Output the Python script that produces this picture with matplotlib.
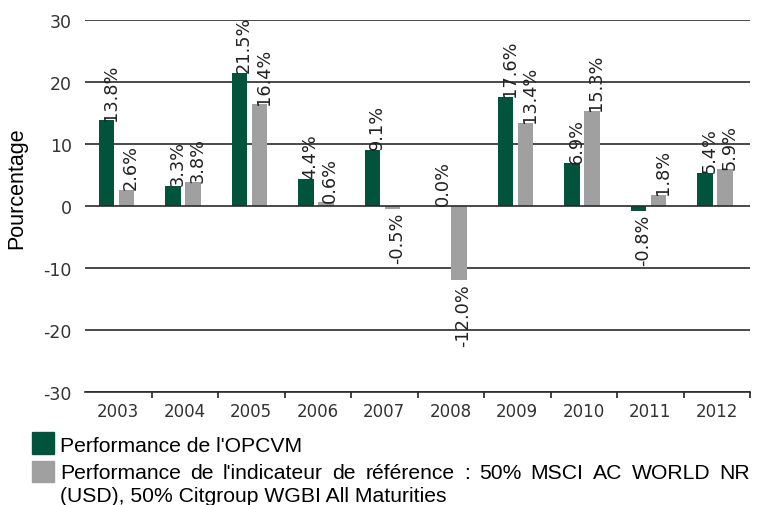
import matplotlib
matplotlib.use("Agg")
import matplotlib.pyplot as plt
from matplotlib.patches import Rectangle
import numpy as np

years = ["2003", "2004", "2005", "2006", "2007", "2008", "2009", "2010", "2011", "2012"]
opcvm = [13.8, 3.3, 21.5, 4.4, 9.1, 0.0, 17.6, 6.9, -0.8, 5.4]
indicateur = [2.6, 3.8, 16.4, 0.6, -0.5, -12.0, 13.4, 15.3, 1.8, 5.9]
yticks = [-30, -20, -10, 0, 10, 20, 30]
series_names = ["Performance de l'OPCVM",
                "Performance de l'indicateur de référence : 50% MSCI AC WORLD NR",
                "(USD), 50% Citgroup WGBI All Maturities"]

plt.rcParams["font.family"] = ["DejaVu Sans"]
GREEN = "#02533b"
GREY = "#a0a0a0"
W, H = 757, 506
fig = plt.figure(figsize=(W / 100, H / 100), dpi=100)
ax = fig.add_axes([85 / W, 1 - 393 / H, (750 - 85) / W, (393 - 21) / H])

x = np.arange(len(years))
bw = 0.23
off_g, off_r = -0.175, 0.125
ax.bar(x + off_g, opcvm, bw, color=GREEN, zorder=3)
ax.bar(x + off_r, indicateur, bw, color=GREY, zorder=3)

LFS = 12.8
def label(xs, vals):
    for xi, v in zip(xs, vals):
        if v >= 0:
            ax.annotate(f"{v:.1f}%", (xi, v), xytext=(3, 0.5), textcoords="offset points",
                        rotation=90, ha="center", va="bottom", fontsize=LFS,
                        family="DejaVu Sans", color="#222222", zorder=5)
        else:
            ax.annotate(f"{v:.1f}%", (xi, v), xytext=(3, -2), textcoords="offset points",
                        rotation=90, ha="center", va="top", fontsize=LFS,
                        family="DejaVu Sans", color="#222222", zorder=5)

label(x + off_g, opcvm)
label(x + off_r, indicateur)

ax.set_xlim(-0.5, len(years) - 0.5)
ax.set_ylim(-30, 30)
ax.set_yticks(yticks)
ax.set_yticklabels([str(t) for t in yticks], family="DejaVu Sans")
ax.tick_params(axis="y", length=0, pad=9.5, labelsize=12.5, labelcolor="#333333")
ax.set_xticks(x)
ax.set_xticklabels(years, family="DejaVu Sans")
ax.tick_params(axis="x", which="major", length=0, pad=7, labelsize=12, labelcolor="#333333")
ax.set_xticks(np.arange(len(years)) + 0.5, minor=True)
ax.tick_params(axis="x", which="minor", length=4, width=1.2, color="#222222", direction="out")
for t in yticks:
    ax.axhline(t, color="#2a2a2a", lw=1.2, zorder=4 if t == 0 else 1)
for s in ["left", "right", "top"]:
    ax.spines[s].set_visible(False)
ax.spines["bottom"].set_color("#2a2a2a")
ax.spines["bottom"].set_linewidth(1.2)

fig.text(17 / W, 1 - 188 / H, "Pourcentage", rotation=90, ha="center", va="center",
         fontsize=15.5, family="Liberation Sans", color="black")

# legend
fig.patches.append(Rectangle((32 / W, 1 - 455 / H), 22 / W, 22 / H, transform=fig.transFigure,
                             color=GREEN, figure=fig))
fig.patches.append(Rectangle((32 / W, 1 - 483 / H), 22 / W, 21 / H, transform=fig.transFigure,
                             color=GREY, figure=fig))
fs = 15.2
fig.text(60 / W, 1 - 452 / H, series_names[0], fontsize=fs, family="Liberation Sans",
         va="baseline", ha="left")
# justified line
renderer = fig.canvas.get_renderer()
words = series_names[1].split(" ")
tmp = [fig.text(0, 0, w, fontsize=fs, family="Liberation Sans") for w in words]
widths = [t.get_window_extent(renderer).width for t in tmp]
for t in tmp:
    t.remove()
x0, x1 = 60, 750
gap = (x1 - x0 - sum(widths)) / (len(words) - 1)
cx = x0
for w, wd in zip(words, widths):
    fig.text(cx / W, 1 - 479 / H, w, fontsize=fs, family="Liberation Sans",
             va="baseline", ha="left")
    cx += wd + gap
fig.text(60 / W, 1 - 502 / H, series_names[2], fontsize=fs, family="Liberation Sans",
         va="baseline", ha="left")

fig.savefig("out.png", dpi=100)
